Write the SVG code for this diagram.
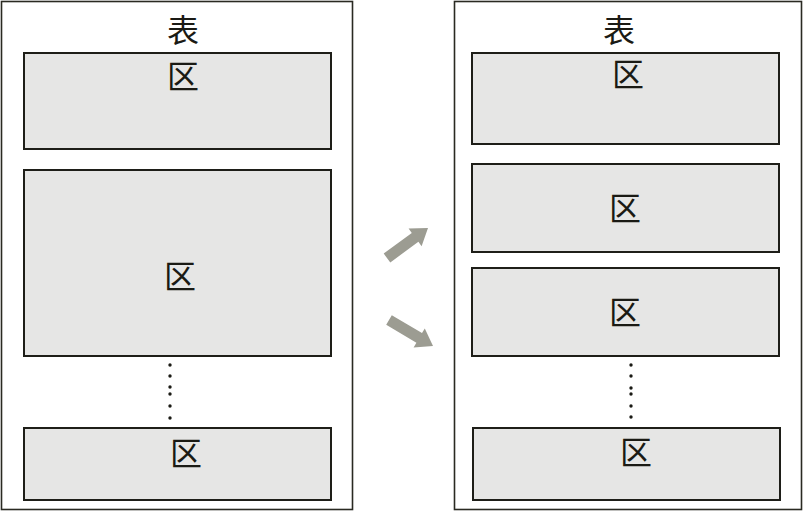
<svg xmlns="http://www.w3.org/2000/svg" width="808" height="512" viewBox="0 0 808 512">
<style>
.outer{fill:#ffffff;stroke:#2a2a22;stroke-width:1.6}
.box{fill:#e6e6e5;stroke:#1e1e18;stroke-width:2}
.t{font-family:"Noto Sans CJK SC","Noto Sans CJK JP",sans-serif;font-size:32px;fill:#1a1a14;text-anchor:middle;dominant-baseline:central}
.dot{fill:#1a1a14}
.arr{fill:#9c9c92}
</style>
<rect width="808" height="512" fill="#ffffff"/>
<g id="table-left">
<rect class="outer" x="1.5" y="1.5" width="351" height="508"/>
<text class="t" x="183" y="28">表</text>
</g>
<g id="left-zone-1"><rect class="box" x="24" y="53" width="307" height="96"/><text class="t" x="183" y="74">区</text></g>
<g id="left-zone-2"><rect class="box" x="24" y="170" width="307" height="186"/><text class="t" x="180" y="274">区</text></g>
<g id="left-dots">
<circle class="dot" cx="170" cy="365" r="1.7"/><circle class="dot" cx="170" cy="376" r="1.7"/><circle class="dot" cx="170" cy="387" r="1.7"/><circle class="dot" cx="170" cy="394" r="1.7"/><circle class="dot" cx="170" cy="406" r="1.7"/><circle class="dot" cx="170" cy="418" r="1.7"/>
</g>
<g id="left-zone-3"><rect class="box" x="24" y="428" width="307" height="72"/><text class="t" x="186" y="451">区</text></g>
<g id="table-right">
<rect class="outer" x="454.5" y="1.5" width="347" height="508"/>
<text class="t" x="619" y="28">表</text>
</g>
<g id="right-zone-1"><rect class="box" x="472" y="53" width="307" height="91"/><text class="t" x="628" y="72">区</text></g>
<g id="right-zone-2"><rect class="box" x="472" y="164" width="307" height="88"/><text class="t" x="625" y="206">区</text></g>
<g id="right-zone-3"><rect class="box" x="472" y="268" width="307" height="88"/><text class="t" x="625" y="310">区</text></g>
<g id="right-dots">
<circle class="dot" cx="631" cy="365" r="1.7"/><circle class="dot" cx="631" cy="376" r="1.7"/><circle class="dot" cx="631" cy="388" r="1.7"/><circle class="dot" cx="631" cy="394" r="1.7"/><circle class="dot" cx="631" cy="406" r="1.7"/><circle class="dot" cx="631" cy="417" r="1.7"/>
</g>
<g id="right-zone-4"><rect class="box" x="473" y="428" width="307" height="72"/><text class="t" x="636" y="450">区</text></g>
<g id="connectors">
<polygon class="arr" points="383.7,253.6 411.8,233 408.6,228.5 428,228 421.6,246.3 418.4,241.8 390.3,262.4"/>
<polygon class="arr" points="391.8,315.2 422,333.1 424.8,328.4 433,346 413.6,347.4 416.4,342.7 386.2,324.8"/>
</g>
</svg>
